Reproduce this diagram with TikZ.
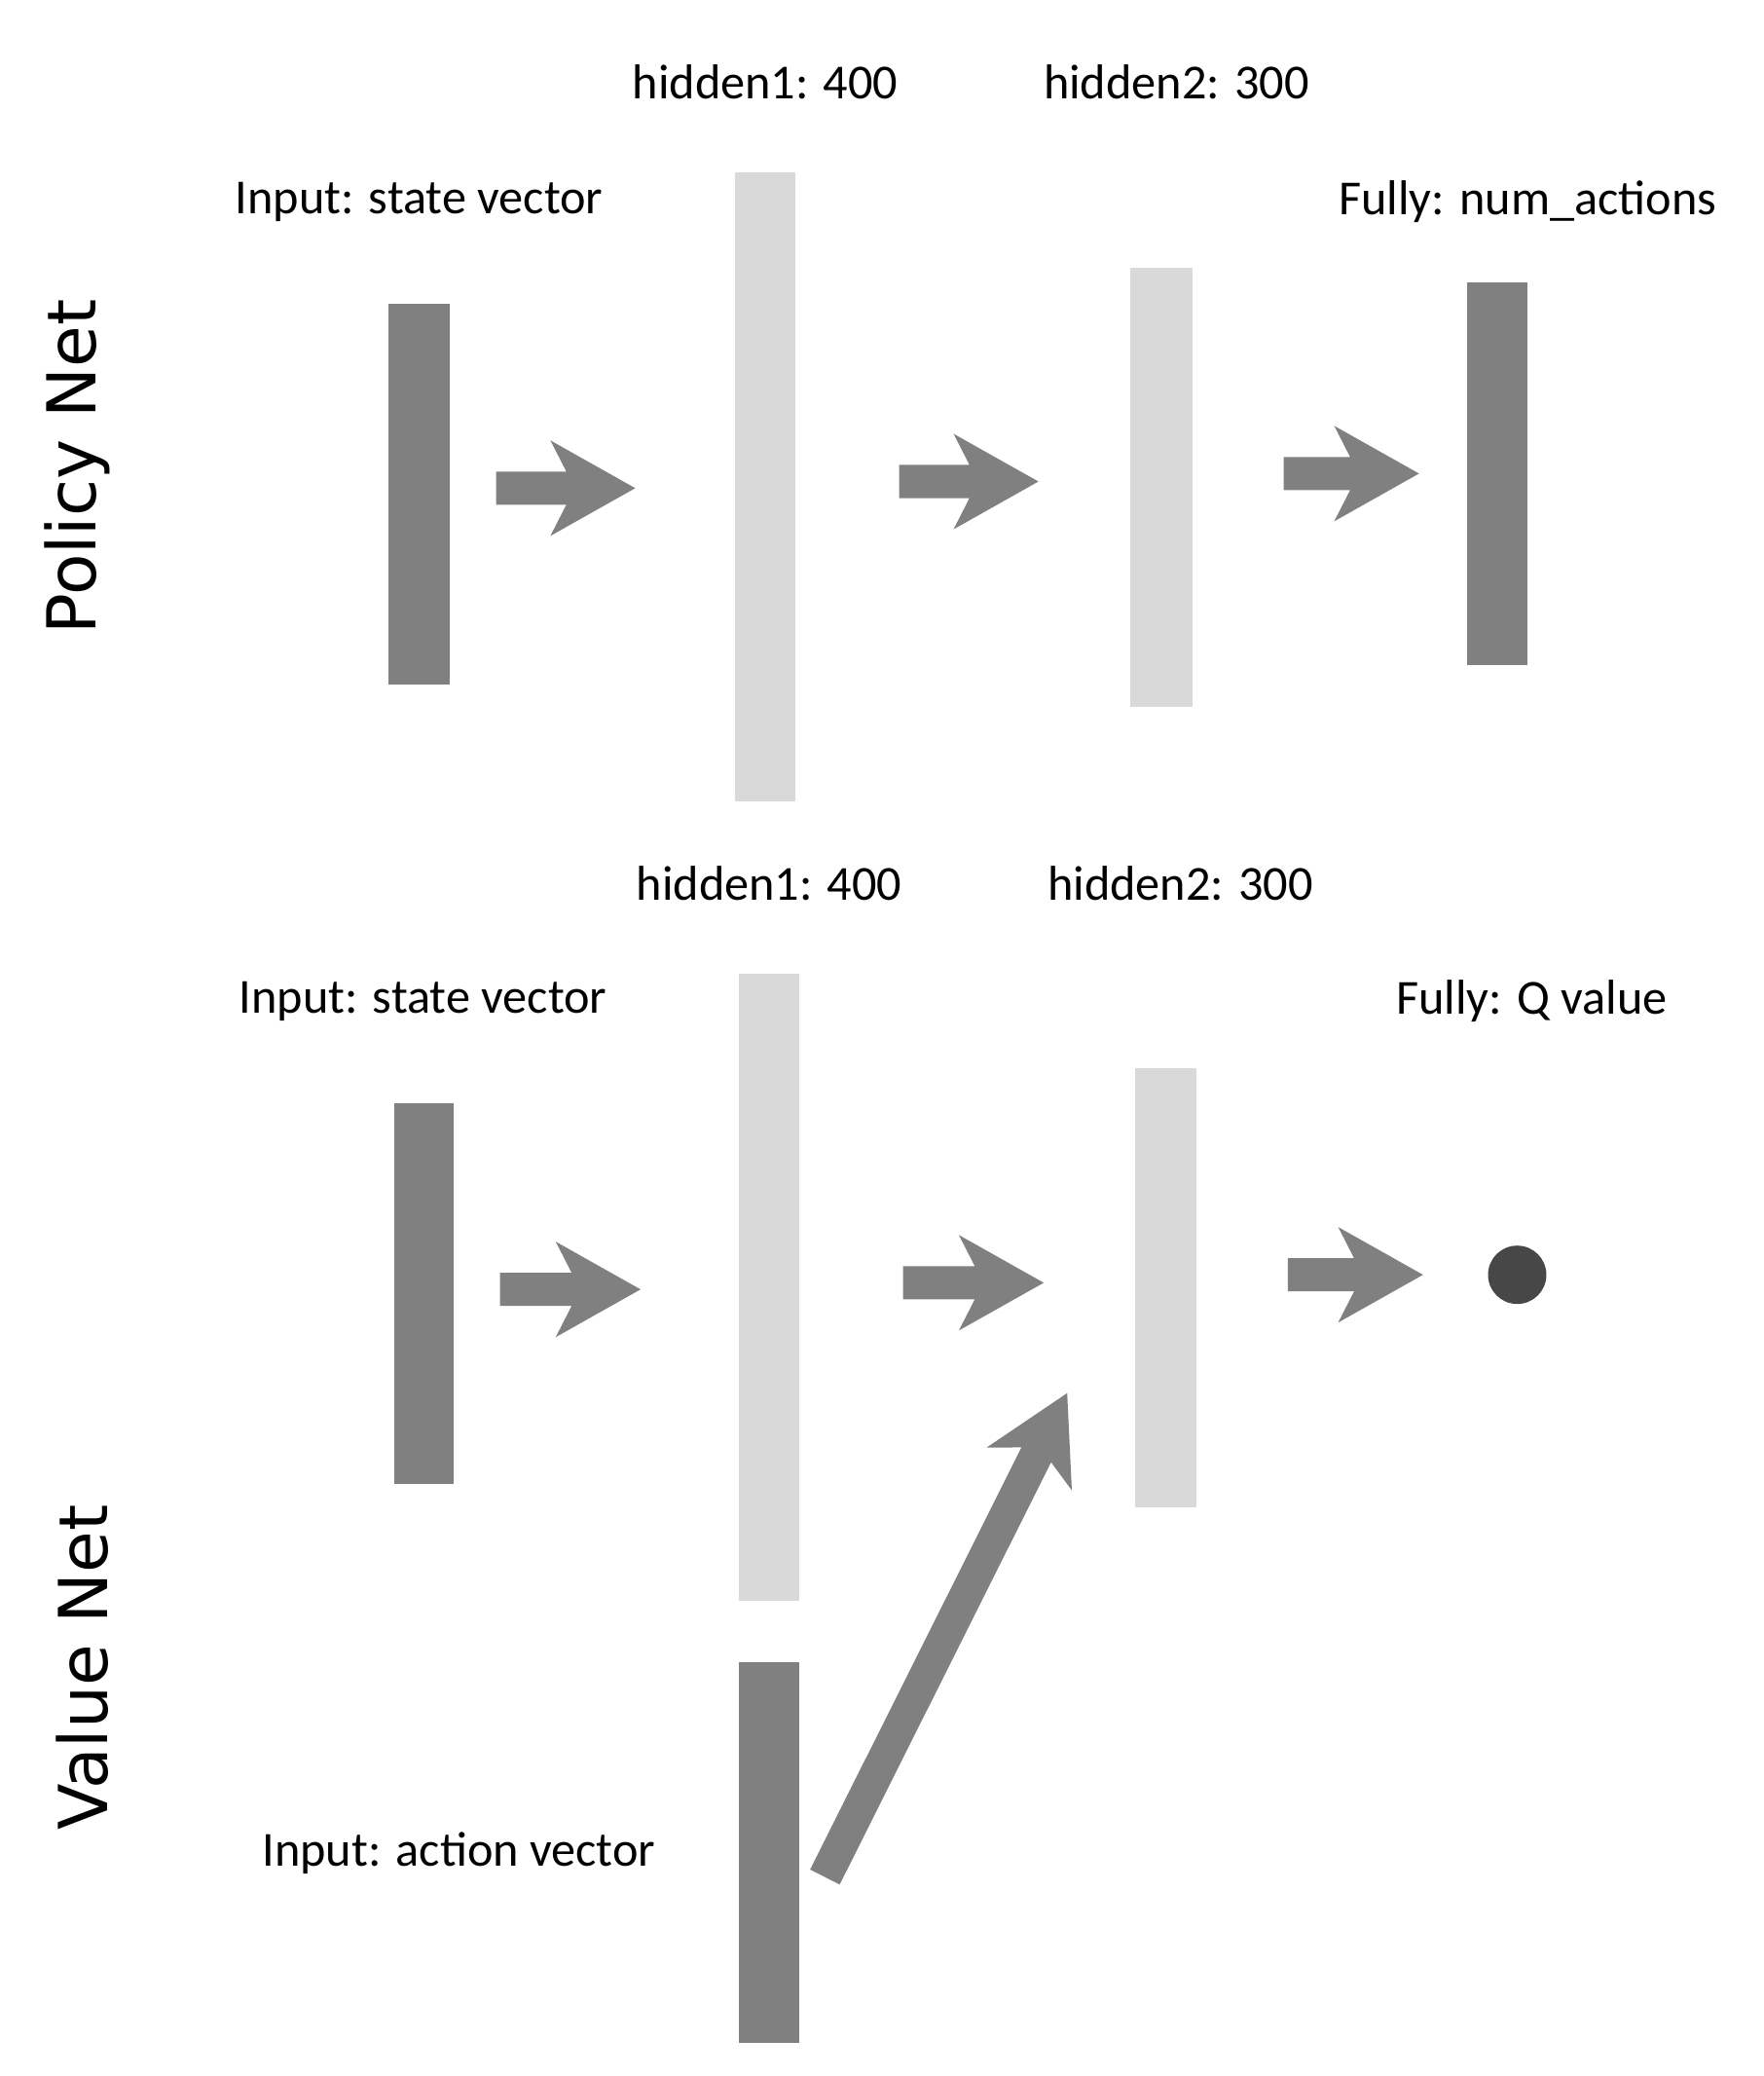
\documentclass[tikz,border=0pt]{standalone}
\usepackage{fontspec}
\setmainfont{Carlito}
\newfontfamily\titlefont{DejaVu Sans}
\begin{document}
\begin{tikzpicture}[x=0.02cm,y=-0.02cm,
  dark/.style={fill=black!50,draw=none},
  light/.style={fill=black!15,draw=none},
  lbl/.style={font=\fontsize{21}{24}\selectfont,inner sep=0},
  ttl/.style={font=\titlefont\fontsize{29}{32}\selectfont,rotate=90,inner sep=0},
  arr/.style={fill=black!50}]
\useasboundingbox (0,0) rectangle (1330,1565);
\newcommand{\blockarrow}[3]{% x start, x end, y center
  \fill[arr] (#1,#3-12.5) -- (#2-52,#3-12.5) -- (#2-64,#3-36) -- (#2,#3) -- (#2-64,#3+36) -- (#2-52,#3+12.5) -- (#1,#3+12.5) -- cycle;}
% Policy net
\fill[dark] (293,229) rectangle (339,516) coordinate (pin);
\fill[light] (554,130) rectangle (600,604) coordinate (ph1);
\fill[light] (852,202) rectangle (899,533) coordinate (ph2);
\fill[dark] (1106,213) rectangle (1152,501) coordinate (pout);
\blockarrow{374}{479}{368}
\blockarrow{678}{783}{363}
\blockarrow{968}{1070}{357}
\node[lbl] (t1) at (577,62) {hidden1: 400};
\node[lbl] (t2) at (887,62) {hidden2: 300};
\node[lbl] (t3) at (316,152) {Input: state vector};
\node[lbl] (t4) at (1152,152) {Fully: num\_actions};
\node[ttl] (pn) at (58,352) {Policy Net};
% Value net
\fill[dark] (297,832) rectangle (342,1119);
\fill[light] (557,734) rectangle (603,1207);
\fill[light] (856,805) rectangle (902,1136);
\fill[dark] (557,1253) rectangle (603,1540);
\blockarrow{377}{483}{972}
\blockarrow{681}{787}{967}
\blockarrow{971}{1073}{961}
\fill[black!72] (1144,961) circle (22);
\begin{scope}[shift={(622,1415)},rotate=63.4]
\fill[arr] (0,-12.5) -- (356,-12.5) -- (344,-36) -- (408,0) -- (344,36) -- (356,12.5) -- (0,12.5) -- cycle;
\end{scope}
\node[lbl] (v1) at (580,666) {hidden1: 400};
\node[lbl] (v2) at (890,666) {hidden2: 300};
\node[lbl] (v3) at (319,755) {Input: state vector};
\node[lbl] (v4) at (1155,755) {Fully: Q value};
\node[lbl] (v5) at (346,1397) {Input: action vector};
\node[ttl] (vn) at (62,1257) {Value Net};
\end{tikzpicture}
\end{document}
